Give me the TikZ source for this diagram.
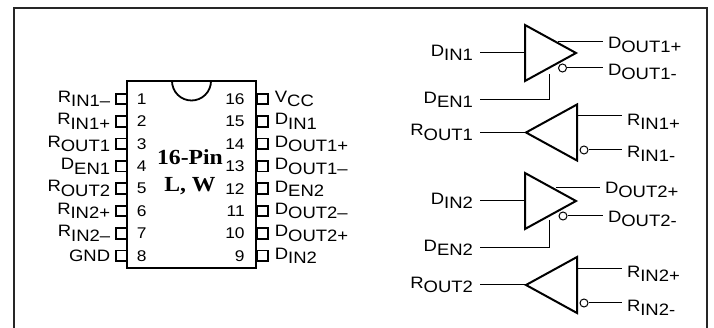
\documentclass[tikz,border=0pt]{standalone}
\usepackage{fontspec}
\setmainfont[FakeStretch=1.12]{Liberation Sans}
\newfontfamily\chipfont[FakeStretch=1.1]{Liberation Serif}
\usetikzlibrary{shapes.geometric}
\usetikzlibrary{positioning}
\newcommand{\sig}[2]{#1\raisebox{-4.5pt}{#2}}

\begin{document}
\begin{tikzpicture}
[x=1pt,y=-1pt,
frame/.style ={draw=black!85, line width=2.2pt},
chip/.style ={rectangle, draw=black, line width=1.8pt, minimum width=129pt,
minimum height=187pt, inner sep=0pt},
pad/.style ={rectangle, draw=black, line width=1.8pt, minimum width=11.5pt,
minimum height=10.5pt, inner sep=0pt},
num/.style ={font=\fontsize{15.5}{16}\selectfont, inner sep=0pt},
sig/.style ={font=\fontsize{16.5}{17}\selectfont, inner sep=0pt},
linkL/.style ={sig, anchor=east, outer sep=7pt},
linkR/.style ={sig, anchor=west, outer sep=5pt},
pinname/.style ={font=\fontsize{21.5}{23}\selectfont\chipfont\bfseries, inner sep=0pt},
driver/.style ={isosceles triangle, isosceles triangle stretches, draw=black,
line width=2pt, minimum width=56pt, minimum height=51pt, inner sep=0pt, outer sep=0pt, anchor=apex},
receiver/.style ={driver, shape border rotate=180},
bubble/.style ={circle, draw=black, line width=1pt, minimum size=8pt, inner sep=0pt},
line/.style ={draw, line width=1pt}]
\useasboundingbox (0,0) rectangle (714,328);
\path [frame] (14,328) -- (14,8) -- (707,8) -- (707,328);
% the package
\node [chip] (ic) at (191.5,174.5) {};
\path [draw=black, line width=1.8pt, fill=white] (172,81) arc [start angle=180, end angle=360, radius=19.5pt] -- cycle;
\node [pinname] (pin) at (190,157) {16-Pin};
\node [pinname] (pkg) at (190,186) {L, W};
% pins 1 to 8
\node [pad] (p1) at (121.5,99) {};
\node [pad, below=10.1pt of p1] (p2) {};
\node [pad, below=10.1pt of p2] (p3) {};
\node [pad, below=10.1pt of p3] (p4) {};
\node [pad, below=10.1pt of p4] (p5) {};
\node [pad, below=10.1pt of p5] (p6) {};
\node [pad, below=10.1pt of p6] (p7) {};
\node [pad, below=10.1pt of p7] (p8) {};
\node [num, right=8.5pt of p1] (n1) {1};
\node [num, right=8.5pt of p2] (n2) {2};
\node [num, right=8.5pt of p3] (n3) {3};
\node [num, right=8.5pt of p4] (n4) {4};
\node [num, right=8.5pt of p5] (n5) {5};
\node [num, right=8.5pt of p6] (n6) {6};
\node [num, right=8.5pt of p7] (n7) {7};
\node [num, right=8.5pt of p8] (n8) {8};
\node [sig, left=4.5pt of p1] (s1) {\sig{R}{IN1--}};
\node [sig, left=4.5pt of p2] (s2) {\sig{R}{IN1+}};
\node [sig, left=4.5pt of p3] (s3) {\sig{R}{OUT1}};
\node [sig, left=4.5pt of p4] (s4) {\sig{D}{EN1}};
\node [sig, left=4.5pt of p5] (s5) {\sig{R}{OUT2}};
\node [sig, left=4.5pt of p6] (s6) {\sig{R}{IN2+}};
\node [sig, left=4.5pt of p7] (s7) {\sig{R}{IN2--}};
\node [sig, left=4.5pt of p8] (s8) {GND};
% pins 16 to 9
\node [pad] (p16) at (262.5,99) {};
\node [pad, below=10.1pt of p16] (p15) {};
\node [pad, below=10.1pt of p15] (p14) {};
\node [pad, below=10.1pt of p14] (p13) {};
\node [pad, below=10.1pt of p13] (p12) {};
\node [pad, below=10.1pt of p12] (p11) {};
\node [pad, below=10.1pt of p11] (p10) {};
\node [pad, below=10.1pt of p10] (p9) {};
\node [num, left=11pt of p16] (n16) {16};
\node [num, left=11pt of p15] (n15) {15};
\node [num, left=11pt of p14] (n14) {14};
\node [num, left=11pt of p13] (n13) {13};
\node [num, left=11pt of p12] (n12) {12};
\node [num, left=11pt of p11] (n11) {11};
\node [num, left=11pt of p10] (n10) {10};
\node [num, left=11pt of p9] (n9) {9};
\node [sig, right=5.5pt of p16] (s16) {\sig{V}{CC}};
\node [sig, right=5.5pt of p15] (s15) {\sig{D}{IN1}};
\node [sig, right=5.5pt of p14] (s14) {\sig{D}{OUT1+}};
\node [sig, right=5.5pt of p13] (s13) {\sig{D}{OUT1--}};
\node [sig, right=5.5pt of p12] (s12) {\sig{D}{EN2}};
\node [sig, right=5.5pt of p11] (s11) {\sig{D}{OUT2--}};
\node [sig, right=5.5pt of p10] (s10) {\sig{D}{OUT2+}};
\node [sig, right=5.5pt of p9] (s9) {\sig{D}{IN2}};
% the gates
\node [driver] (drv1) at (576,53) {};
\node [receiver] (rcv1) at (526,132.5) {};
\node [driver] (drv2) at (576,201) {};
\node [receiver] (rcv2) at (526,285) {};
\node [bubble] (b1) at (562.5,68) {};
\node [bubble] (r1) at (584,150) {};
\node [bubble] (b2) at (563,216) {};
\node [bubble] (r2) at (584,303) {};
% the labels
\node [linkL] (din1) at (480,53) {\sig{D}{IN1}};
\node [linkL] (den1) at (480,100) {\sig{D}{EN1}};
\node [linkL] (rout1) at (480,132.5) {\sig{R}{OUT1}};
\node [linkL] (din2) at (480,201) {\sig{D}{IN2}};
\node [linkL] (den2) at (480,248) {\sig{D}{EN2}};
\node [linkL] (rout2) at (480,285) {\sig{R}{OUT2}};
\node [linkR] (dp1) at (603,45) {\sig{D}{OUT1+}};
\node [linkR] (dm1) at (603,72) {\sig{D}{OUT1-}};
\node [linkR] (ip1) at (622,122) {\sig{R}{IN1+}};
\node [linkR] (im1) at (622,154) {\sig{R}{IN1-}};
\node [linkR] (dp2) at (600,190) {\sig{D}{OUT2+}};
\node [linkR] (dm2) at (603,219) {\sig{D}{OUT2-}};
\node [linkR] (ip2) at (622,274) {\sig{R}{IN2+}};
\node [linkR] (im2) at (622,308) {\sig{R}{IN2-}};
% ends of the lines
\coordinate (tap1) at (558,42);
\coordinate (en1) at (549,74);
\coordinate (tap2) at (556,188);
\coordinate (en2) at (549,220);
\coordinate (back1) at (578,116);
\coordinate (back2) at (578,269);
\begin{scope}[every path/.style=line]
\path (din1) -- (drv1.lower side);
\path (rout1) -- (rcv1.apex);
\path (din2) -- (drv2.lower side);
\path (rout2) -- (rcv2.apex);
\path (tap1) -- (dp1.west |- tap1);
\path (b1) -- (dm1.west |- b1);
\path (tap2) -- (dp2.west |- tap2);
\path (b2) -- (dm2.west |- b2);
\path (back1) -- (ip1.west |- back1);
\path (r1) -- (im1.west |- r1);
\path (back2) -- (ip2.west |- back2);
\path (r2) -- (im2.west |- r2);
\path (den1) -- (en1 |- den1) -- (en1);
\path (den2) -- (en2 |- den2) -- (en2);
\end{scope}
\end{tikzpicture}
\end{document}
